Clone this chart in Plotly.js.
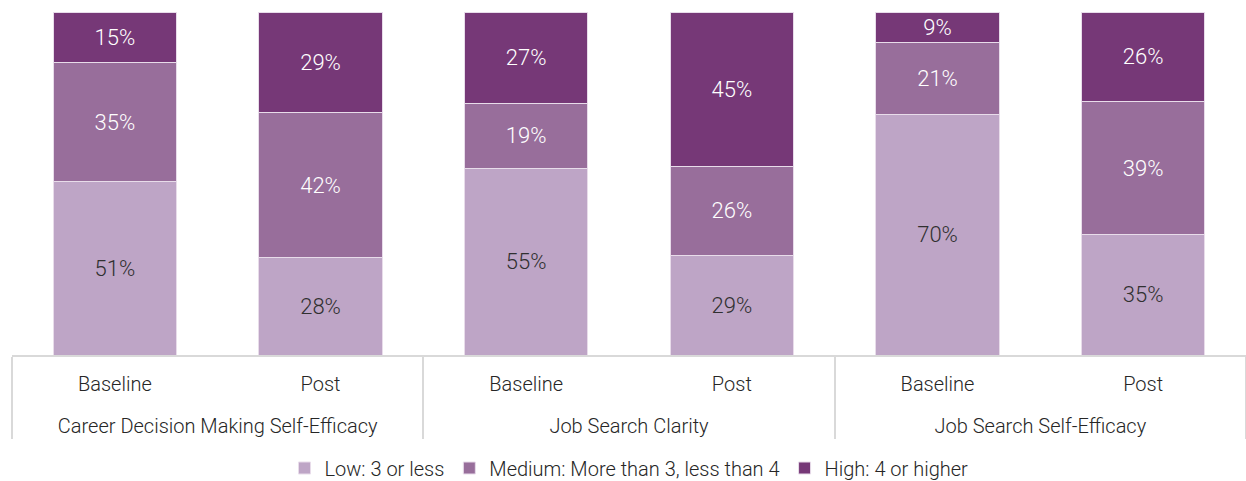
<!DOCTYPE html>
<html>
<head>
<meta charset="utf-8">
<script src="https://cdn.plot.ly/plotly-3.0.1.min.js"></script>
<style>html,body{margin:0;padding:0;background:#fff;}#chart{width:1246px;height:481px;}</style>
</head>
<body>
<div id="chart"></div>
<script>
const groups = ["Career Decision Making Self-Efficacy","Career Decision Making Self-Efficacy","Job Search Clarity","Job Search Clarity","Job Search Self-Efficacy","Job Search Self-Efficacy"];
const phases = ["Baseline","Post","Baseline","Post","Baseline","Post"];
const lowVals = [51, 28, 55, 29, 70, 35];
const medVals = [35, 42, 19, 26, 21, 39];
const highVals = [15, 29, 27, 45, 9, 26];
const seriesNames = ["Low: 3 or less","Medium: More than 3, less than 4","High: 4 or higher"];

const FONT = "Roboto, sans-serif";
const colors = ["#BEA5C6", "#986E9B", "#763877"];
const textColors = ["#303030", "#ffffff", "#ffffff"];
const vals = [lowVals, medVals, highVals];

// first-level labels get an empty second line so the group row sits lower
const phaseLabels = phases.map(p => p + "<br>\u00a0");

const traces = vals.map((v, i) => ({
  type: "bar",
  name: seriesNames[i],
  x: [groups, phaseLabels],
  y: v,
  text: v.map(n => n + "%"),
  texttemplate: "%{text}",
  textposition: "inside",
  insidetextanchor: "middle",
  textangle: 0,
  constraintext: "none",
  textfont: {family: FONT, size: 22, weight: 300, color: textColors[i]},
  marker: {color: colors[i], line: {color: "#e8dcea", width: 1}},
  hoverinfo: "skip"
}));

const layout = {
  width: 1246, height: 481,
  margin: {l: 12, r: 0, t: 12, b: 126},
  barmode: "stack",
  barnorm: "percent",
  bargap: 0.4,
  paper_bgcolor: "#ffffff",
  plot_bgcolor: "#ffffff",
  font: {family: FONT, color: "#262626", size: 22, weight: 300},
  showlegend: true,
  legend: {orientation: "h", x: 0.5, xanchor: "center", yref: "container", y: 0.027, yanchor: "middle",
           font: {family: FONT, size: 20, weight: 300, color: "#262626"}, traceorder: "normal"},
  xaxis: {type: "multicategory", showline: true, linecolor: "#d9d9d9", linewidth: 2,
          showdividers: true, dividercolor: "#d9d9d9", dividerwidth: 2, ticklabelstandoff: 10,
          tickfont: {family: FONT, size: 20, weight: 300, color: "#262626"}, ticks: "", showgrid: false},
  yaxis: {range: [0, 100], visible: false, showgrid: false, zeroline: false, fixedrange: true}
};

Plotly.newPlot("chart", traces, layout, {displayModeBar: false, staticPlot: true});
</script>
</body>
</html>
